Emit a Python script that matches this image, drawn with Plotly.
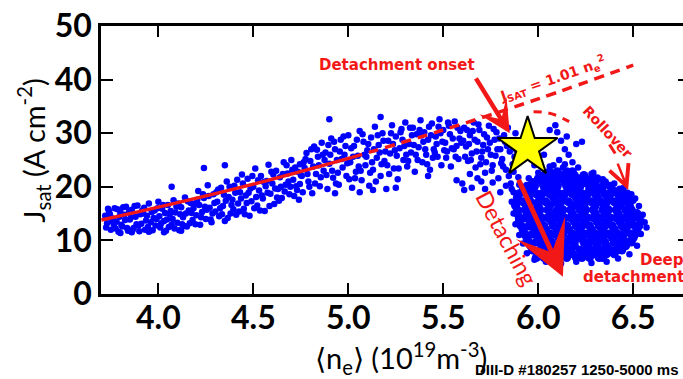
import plotly.graph_objects as go

# ---------------- data ----------------
# attached band, low density (n_e in 1e19 m^-3, Jsat in A/cm^2)
band_pts = [
 (3.72,14.6),(3.73,13.2),(3.74,15.5),(3.75,12.0),(3.76,14.1),(3.77,16.0),(3.78,13.5),(3.79,11.6),(3.80,15.2),(3.81,12.6),
 (3.82,14.8),(3.83,16.3),(3.84,11.8),(3.85,13.9),(3.86,15.7),(3.87,12.3),(3.88,14.4),(3.89,16.5),(3.90,11.7),(3.91,13.1),
 (3.92,15.0),(3.93,12.0),(3.94,14.6),(3.95,16.9),(3.96,13.4),(3.97,11.9),(3.98,15.6),(3.99,14.0),(4.00,17.2),(4.01,12.4),
 (4.02,15.9),(4.03,13.6),(4.04,11.8),(4.05,16.6),(4.06,14.9),(4.07,12.9),(4.08,17.5),(4.09,15.2),(4.10,13.3),(4.11,11.9),
 (4.12,16.2),(4.13,14.3),(4.14,18.0),(4.15,12.6),(4.16,15.6),(4.17,17.0),(4.18,13.8),(4.19,16.8),(4.20,14.7),(4.21,19.2),
 (4.22,12.9),(4.23,15.3),(4.24,17.9),(4.25,14.0),(4.26,20.3),(4.27,16.1),(4.28,13.4),(4.29,18.6),(4.30,15.4),(4.31,17.2),
 (4.32,14.5),(4.33,19.8),(4.34,16.4),(4.35,13.6),(4.36,21.0),(4.37,18.1),(4.38,15.0),(4.39,17.6),(4.40,20.2),(4.41,14.8),
 (4.42,16.9),(4.43,19.0),(4.44,22.3),(4.45,15.9),(4.46,18.4),(4.47,21.5),(4.48,14.6),(4.49,17.3),(4.50,20.0),(4.51,23.4),
 (4.52,16.5),(4.53,19.3),(4.54,22.0),(4.55,17.8),(4.56,15.5),(4.57,21.1),(4.58,24.1),(4.59,18.7),(4.60,20.6),(4.61,16.8),
 (4.62,23.0),(4.63,19.6),(4.64,21.8),(4.65,17.9),(4.66,24.6),(4.67,20.4),(4.68,22.5),(4.69,18.6),(4.70,25.0),(4.71,21.3),
 (4.72,23.6),(4.73,19.4),(4.74,17.6),(4.75,22.2),
 (3.725,12.4),(3.745,14.9),(3.765,13.0),(3.785,15.8),(3.805,12.9),(3.825,13.8),(3.845,15.3),(3.865,12.0),(3.885,13.0),
 (3.905,14.9),(3.925,16.1),(3.945,12.5),(3.965,15.3),(3.985,12.8),(4.005,14.5),(4.025,16.6),(4.045,13.9),(4.065,15.5),
 (4.085,12.2),(4.105,16.9),(4.125,13.0),(4.145,15.0),(4.165,13.2),(4.185,16.0),(4.205,17.6),(4.225,14.3),(4.245,16.3),
 (4.265,18.3),(4.285,15.0),(4.305,19.0),(4.325,16.0),(4.345,18.5),(4.365,14.2),(4.385,16.6),(4.405,18.9),(4.425,15.4),
 (4.445,20.6),(4.465,17.0),(4.485,19.7),(4.505,16.0),(4.525,21.2),(4.545,18.4),(4.565,20.1),(4.585,16.4),(4.605,22.3),
 (4.625,18.0),(4.645,20.0),(4.665,19.1),(4.685,21.0),(4.705,23.2),(4.725,20.1),(4.745,24.2),
 (3.735,15.9),(3.755,13.6),(3.775,12.2),(3.795,14.4),(3.815,16.2),(3.835,12.3),(3.855,14.3),(3.875,16.4),(3.895,12.8),
 (3.915,15.6),(3.935,13.7),(3.955,11.8),(3.975,14.2),(3.995,16.0),(4.015,13.2),(4.035,15.1),(4.055,12.5),(4.075,14.0),
 (4.095,16.3),(4.115,14.9),(4.135,12.7),(4.155,17.3),(4.175,15.1),(4.195,13.0),(4.215,16.6),(4.235,18.6),(4.255,15.7),
 (4.275,13.9),(4.295,17.0),(4.315,19.5),(4.335,14.9),(4.355,17.4),(4.375,20.0),(4.395,15.8),(4.415,21.3),(4.435,17.8),
 (4.455,14.9),(4.475,18.9),(4.495,22.0),(4.515,18.1),(4.535,15.6),(4.555,20.9),(4.575,18.9),(4.595,22.8),(4.615,19.7),
 (4.635,17.4),(4.655,22.4),(4.675,24.0),(4.695,20.0),(4.715,18.3),(4.735,22.8),(4.745,20.5),
 (4.24,23.5),(4.35,24.0),(4.07,20.0),(3.80,11.4),(3.86,11.5),(3.95,11.6),(4.03,11.5),(4.12,11.8),
]

# band around the density of the Jsat peak
mid_pts = [
 (4.76,19.0),(4.77,23.5),(4.78,26.3),(4.79,21.0),(4.80,24.8),(4.81,18.8),(4.82,27.5),(4.83,22.4),(4.84,25.6),(4.85,20.1),
 (4.86,28.2),(4.87,23.0),(4.88,26.4),(4.89,19.6),(4.90,24.3),(4.91,29.0),(4.92,21.7),(4.93,27.0),(4.94,25.0),(4.95,20.4),
 (4.96,28.8),(4.97,23.6),(4.98,26.0),(4.99,22.0),(5.00,29.6),(5.01,24.6),(5.02,19.8),(5.03,27.6),(5.04,22.8),(5.05,25.8),
 (5.06,30.4),(5.07,21.2),(5.08,28.4),(5.09,24.0),(5.10,26.8),(5.11,20.2),(5.12,29.2),(5.13,23.2),(5.14,31.2),(5.15,25.4),
 (5.16,27.8),(5.17,22.0),(5.18,30.0),(5.19,24.8),(5.20,19.6),(5.21,28.6),(5.22,26.2),(5.23,31.5),(5.24,23.4),(5.25,29.4),
 (5.26,21.4),(5.27,27.2),(5.28,30.8),(5.29,25.0),(5.30,32.0),(5.31,23.8),(5.32,28.0),(5.33,26.4),(5.34,31.0),(5.35,22.8),
 (5.36,29.8),(5.37,27.4),(5.38,32.4),(5.39,24.6),(5.40,30.2),(5.41,26.0),(5.42,28.8),(5.43,23.2),(5.44,31.8),(5.45,27.0),
 (5.46,29.4),(5.47,25.6),(5.48,32.6),(5.49,24.0),(5.50,30.6),(5.51,28.2),(5.52,26.6),(5.53,31.4),(5.54,23.8),(5.55,29.0),
 (5.56,32.2),(5.57,27.6),(5.58,25.2),(5.59,30.4),
 (4.755,22.0),(4.775,25.2),(4.795,20.0),(4.815,23.8),(4.835,26.9),(4.855,21.8),(4.875,25.0),(4.895,27.8),(4.915,23.0),
 (4.935,20.6),(4.955,26.6),(4.975,29.4),(4.995,24.4),(5.015,27.2),(5.035,21.6),(5.055,23.8),(5.075,29.8),(5.095,25.6),
 (5.115,22.6),(5.135,27.0),(5.155,29.6),(5.175,24.2),(5.195,26.6),(5.215,22.4),(5.235,28.0),(5.255,25.8),(5.275,30.2),
 (5.295,27.6),(5.315,24.8),(5.335,29.6),(5.355,26.0),(5.375,30.6),(5.395,28.4),(5.415,24.2),(5.435,29.6),(5.455,26.4),
 (5.475,31.2),(5.495,28.4),(5.515,25.4),(5.535,29.8),(5.555,27.0),(5.575,31.0),(5.595,28.2),
 (4.765,24.6),(4.785,22.4),(4.805,27.0),(4.825,20.6),(4.845,24.0),(4.865,26.0),(4.885,22.2),(4.905,26.0),(4.925,28.4),
 (4.945,22.6),(4.965,25.2),(4.985,27.6),(5.005,21.4),(5.025,25.6),(5.045,28.8),(5.065,23.0),(5.085,26.0),(5.105,28.0),
 (5.125,24.6),(5.145,21.0),(5.165,26.4),(5.185,28.6),(5.205,24.0),(5.225,30.0),(5.245,26.8),(5.265,23.4),(5.285,28.8),
 (5.305,26.0),(5.325,31.0),(5.345,27.8),(5.365,25.0),(5.385,29.6),(5.405,27.0),(5.425,31.2),(5.445,25.4),(5.465,28.0),
 (5.485,30.0),(5.505,26.8),(5.525,32.0),(5.545,27.2),(5.565,25.6),(5.585,29.0),
 (4.90,32.6),(5.17,33.0),(5.06,19.0),(5.13,19.4),(4.93,18.8),(5.25,19.8),(5.42,22.0),(5.57,21.2),
]

# knee region before and around the onset
knee_pts = [
 (5.60,20.6),(5.61,19.4),(5.65,19.8),(5.70,21.0),
 (5.61,31.0),(5.62,27.5),(5.63,24.8),(5.64,29.6),(5.65,26.2),(5.66,32.0),(5.67,23.6),(5.68,28.4),(5.69,30.6),(5.70,25.4),
 (5.71,27.8),(5.72,22.6),(5.73,29.2),(5.74,31.4),(5.75,26.0),(5.76,24.0),(5.77,28.8),(5.78,30.2),(5.79,21.6),(5.80,27.0),
 (5.81,25.2),(5.82,29.6),(5.83,23.2),(5.84,31.0),(5.85,26.6),(5.86,28.0),(5.87,22.8),(5.88,30.0),(5.89,24.6),(5.90,27.4),
 (5.615,25.6),(5.635,28.0),(5.655,30.4),(5.675,26.6),(5.695,24.2),(5.715,29.8),(5.735,27.0),(5.755,23.0),(5.775,25.8),
 (5.795,29.0),(5.815,23.8),(5.835,27.6),(5.855,20.6),(5.875,25.6),(5.895,21.8),
 (5.605,28.6),(5.625,30.6),(5.645,25.0),(5.665,28.8),(5.685,31.6),(5.705,26.6),(5.725,24.6),(5.745,28.2),(5.765,30.8),
 (5.785,27.0),(5.805,24.4),(5.825,28.4),(5.845,22.0),(5.865,24.2),(5.885,26.8),
 (5.72,19.6),(5.76,20.8),(5.80,19.0),(5.83,20.2),(5.86,19.6),(5.68,21.6),(5.64,22.4),
 (6.10,30.2),(6.12,28.6),(6.14,27.0),(6.16,26.0),(6.11,25.0),(6.08,24.0),(6.13,23.6),(6.18,24.6),(6.20,28.0),(6.06,30.6),
 (6.09,31.5),(6.15,29.4),(6.23,28.4),(6.29,22.6),(6.03,26.0),(6.05,28.5),(5.98,24.0),
]

# deep-detachment cloud: rows of Jsat with the n_e values found along each row
cloud_rows_j = [6.8, 7.5, 8.2, 9.0, 9.7, 10.5, 11.2, 12.0, 12.7, 13.5, 14.2, 15.0, 15.7, 16.5, 17.2,
                18.0, 18.7, 19.4, 20.1, 20.8, 21.5, 22.1, 22.8]
cloud_rows_n = [
 [5.99, 6.03, 6.08, 6.11, 6.15, 6.20, 6.23, 6.27, 6.32, 6.34],
 [6.01, 6.06, 6.13, 6.18, 6.25, 6.30, 6.36, 6.40],
 [5.97, 6.01, 6.05, 6.10, 6.13, 6.17, 6.22, 6.25, 6.29, 6.33, 6.38, 6.41, 6.44],
 [5.96, 6.02, 6.08, 6.14, 6.19, 6.26, 6.31, 6.36, 6.42, 6.46],
 [5.95, 5.99, 6.03, 6.07, 6.12, 6.15, 6.19, 6.24, 6.27, 6.31, 6.35, 6.40, 6.43, 6.47, 6.49],
 [5.94, 6.00, 6.05, 6.11, 6.17, 6.22, 6.28, 6.34, 6.39, 6.44, 6.50],
 [5.93, 5.97, 6.01, 6.06, 6.09, 6.13, 6.18, 6.21, 6.25, 6.30, 6.33, 6.37, 6.42, 6.45, 6.49, 6.51],
 [5.92, 5.98, 6.04, 6.10, 6.16, 6.22, 6.28, 6.34, 6.40, 6.46, 6.52],
 [5.91, 5.95, 5.99, 6.03, 6.08, 6.11, 6.15, 6.20, 6.23, 6.27, 6.32, 6.35, 6.39, 6.44, 6.47, 6.51, 6.53],
 [5.90, 5.96, 6.01, 6.07, 6.12, 6.19, 6.24, 6.31, 6.36, 6.43, 6.48, 6.54],
 [5.90, 5.93, 5.97, 6.02, 6.05, 6.09, 6.14, 6.17, 6.21, 6.26, 6.29, 6.33, 6.38, 6.41, 6.45, 6.50, 6.53],
 [5.89, 5.95, 6.00, 6.07, 6.12, 6.18, 6.24, 6.30, 6.36, 6.42, 6.48, 6.52],
 [5.89, 5.93, 5.98, 6.01, 6.05, 6.10, 6.13, 6.17, 6.22, 6.25, 6.29, 6.34, 6.37, 6.41, 6.46, 6.49],
 [5.88, 5.94, 6.00, 6.06, 6.11, 6.19, 6.24, 6.30, 6.35, 6.43, 6.48],
 [5.89, 5.92, 5.96, 6.00, 6.04, 6.09, 6.12, 6.16, 6.21, 6.24, 6.28, 6.33, 6.36, 6.40, 6.44, 6.47],
 [5.89, 5.95, 6.01, 6.08, 6.13, 6.20, 6.25, 6.31, 6.37, 6.43, 6.47],
 [5.90, 5.94, 5.99, 6.02, 6.06, 6.11, 6.14, 6.18, 6.23, 6.26, 6.30, 6.35, 6.38, 6.42, 6.45],
 [5.92, 5.97, 6.04, 6.09, 6.16, 6.21, 6.27, 6.33, 6.39, 6.43],
 [5.94, 5.98, 6.03, 6.06, 6.10, 6.15, 6.18, 6.22, 6.27, 6.30, 6.34, 6.38],
 [5.97, 6.02, 6.07, 6.14, 6.19, 6.25, 6.30, 6.35],
 [6.00, 6.04, 6.09, 6.12, 6.16, 6.21, 6.24, 6.28, 6.31],
 [6.03, 6.08, 6.13, 6.19, 6.24],
 [6.06, 6.10, 6.15, 6.18],
]
cloud_edge_pts = [
 (6.56,13.4),(6.54,11.2),(6.52,9.0),(6.48,7.4),(6.42,6.6),(6.36,6.0),(6.28,5.8),(6.20,6.0),(6.12,5.7),(6.04,6.0),
 (5.98,6.4),(5.94,7.6),(5.92,9.4),(5.90,11.0),(5.88,13.0),(5.87,15.0),(5.86,17.2),(5.87,19.0),(5.90,20.4),(5.95,21.6),
 (6.00,22.6),(6.06,23.8),(6.14,24.2),(6.21,23.6),(6.28,22.4),(6.34,21.4),(6.40,20.6),(6.45,19.8),(6.49,18.6),(6.51,17.8),
 (6.53,16.4),(6.55,14.8),(6.57,12.4),(6.47,18.9),(6.50,17.4),
]

# fit J_SAT = 1.01 n_e^2
fit_solid_n = [3.70, 4.00, 4.50, 5.02]
fit_solid_j = [13.8, 16.2, 20.5, 25.5]
fit_dash_n = [5.02, 5.50, 6.00, 6.50]
fit_dash_j = [25.5, 30.6, 36.4, 42.7]

# rollover guide (dashed arc)
roll_arc1_n = [5.975, 6.03, 6.09, 6.15, 6.19]
roll_arc1_j = [34.0, 33.9, 33.4, 32.4, 31.6]
roll_arc2_n = [6.375, 6.405]
roll_arc2_j = [27.9, 26.2]

onset_n, onset_j = [5.944], [27.3]

x_ticks = [4.0, 4.5, 5.0, 5.5, 6.0, 6.5]
y_ticks = [0, 10, 20, 30, 40, 50]

RED = "#f21818"
BLUE = "#0000ff"
FONT = "Lato"
LABEL_FONT = "DejaVu Sans"

# ---------------- figure ----------------
fig = go.Figure()

def split(pts):
    return [p[0] for p in pts], [p[1] for p in pts]

cloud_n, cloud_j = [], []
for jv, row in zip(cloud_rows_j, cloud_rows_n):
    cloud_n += row
    cloud_j += [jv] * len(row)

fig.add_trace(go.Scatter(x=cloud_n, y=cloud_j, mode="markers",
                         marker=dict(color=BLUE, size=9, line=dict(width=0)), hoverinfo="skip"))
for pts in (band_pts, mid_pts, knee_pts, cloud_edge_pts):
    xs, ys = split(pts)
    fig.add_trace(go.Scatter(x=xs, y=ys, mode="markers",
                             marker=dict(color=BLUE, size=6.5, line=dict(width=0)), hoverinfo="skip"))

fig.add_trace(go.Scatter(x=fit_solid_n, y=fit_solid_j, mode="lines", line_shape="spline",
                         line=dict(color=RED, width=3.5)))
fig.add_trace(go.Scatter(x=fit_dash_n, y=fit_dash_j, mode="lines", line_shape="spline",
                         line=dict(color=RED, width=3.5, dash="10px,7px")))
fig.add_trace(go.Scatter(x=roll_arc1_n, y=roll_arc1_j, mode="lines", line_shape="spline",
                         line=dict(color=RED, width=3, dash="8px,7px")))
fig.add_trace(go.Scatter(x=roll_arc2_n, y=roll_arc2_j, mode="lines",
                         line=dict(color=RED, width=3)))
fig.add_trace(go.Scatter(x=onset_n, y=onset_j, mode="markers",
                         marker=dict(symbol="star", size=45, color="#ffff00",
                                     line=dict(color="black", width=2))))
# invisible trace on right axis to carry its ticks
fig.add_trace(go.Scatter(x=[4.0], y=[0], yaxis="y2", mode="markers",
                         marker=dict(opacity=0), hoverinfo="skip"))

ann = []
# arrows (tail -> tip in data coordinates)
ann.append(dict(x=5.85, y=30.0, ax=5.667, ay=40.5, axref="x", ayref="y", xref="x", yref="y",
                text="", showarrow=True, arrowhead=3, arrowsize=1.2, arrowwidth=4.5, arrowcolor=RED))
ann.append(dict(x=6.13, y=3.2, ax=5.893, ay=21.6, axref="x", ayref="y", xref="x", yref="y",
                text="", showarrow=True, arrowhead=3, arrowsize=1.8, arrowwidth=5, arrowcolor=RED))
ann.append(dict(x=6.473, y=19.4, ax=6.415, ay=24.6, axref="x", ayref="y", xref="x", yref="y",
                text="", showarrow=True, arrowhead=5, arrowsize=1.6, arrowwidth=2.5, arrowcolor=RED))
# texts
ann.append(dict(x=5.256, y=42.7, xref="x", yref="y", text="<b>Detachment onset</b>", showarrow=False,
                font=dict(family=LABEL_FONT, size=15, color=RED)))
ann.append(dict(x=6.075, y=40.2, xref="x", yref="y",
                text="<b>J<sub>SAT</sub> = 1.01 n<sub>e</sub><sup>2</sup></b>", showarrow=False, textangle=-19,
                font=dict(family=LABEL_FONT, size=14, color=RED)))
ann.append(dict(x=6.366, y=30.2, xref="x", yref="y", text="<b>Rollover</b>", showarrow=False, textangle=47,
                font=dict(family=LABEL_FONT, size=14, color=RED)))
ann.append(dict(x=5.835, y=10.4, xref="x", yref="y", text="Detaching", showarrow=False, textangle=62,
                font=dict(family=FONT, size=23, color=RED)))
ann.append(dict(x=1.006, y=0.1269, xref="paper", yref="paper", text="<b>Deep</b>",
                showarrow=False, xanchor="right", yanchor="middle",
                font=dict(family=LABEL_FONT, size=15, color=RED)))
ann.append(dict(x=1.006, y=0.0634, xref="paper", yref="paper", text="<b>detachment</b>",
                showarrow=False, xanchor="right", yanchor="middle",
                font=dict(family=LABEL_FONT, size=15, color=RED)))
# axis titles
ann.append(dict(x=-0.1168, y=0.535, xref="paper", yref="paper", textangle=-90,
                xanchor="center", yanchor="middle",
                text="J<sub>sat</sub> (A cm<sup>-2</sup>)", showarrow=False,
                font=dict(family=FONT, size=29, color="black")))
ann.append(dict(x=0.515, y=-0.239, xref="paper", yref="paper", xanchor="center", yanchor="middle",
                text="\u27e8n<sub>e</sub>\u27e9 (10<sup>19</sup>m<sup>-3</sup>)", showarrow=False,
                font=dict(family=FONT, size=29, color="black")))
ann.append(dict(x=0.995, y=-0.282, xref="paper", yref="paper", xanchor="right", yanchor="middle",
                text="<b>DIII-D #180257 1250-5000 ms</b>", showarrow=False,
                font=dict(family="Liberation Sans", size=15, color="black")))

fig.update_layout(
    width=683, height=379,
    margin=dict(l=101, r=0, t=26, b=85),
    paper_bgcolor="white", plot_bgcolor="white",
    showlegend=False,
    annotations=ann,
    xaxis=dict(range=[3.698, 6.762], tickvals=x_ticks, ticktext=[f"{v:.1f}" for v in x_ticks],
               ticks="inside", ticklen=11, tickwidth=2, tickcolor="black",
               showline=True, linewidth=2.5, linecolor="black", mirror="ticks",
               showgrid=False, zeroline=False, ticklabelstandoff=-6,
               tickfont=dict(family=FONT, size=32, color="black", weight="bold")),
    yaxis=dict(range=[0, 50], tickvals=y_ticks, ticks="inside", ticklen=12, tickwidth=2,
               tickcolor="black", showline=True, linewidth=2.5, linecolor="black",
               showgrid=False, zeroline=False,
               tickfont=dict(family=FONT, size=32, color="black", weight="bold")),
    yaxis2=dict(range=[0, 50], tickvals=y_ticks, overlaying="y", side="right", anchor="x",
                ticks="inside", ticklen=5, tickwidth=2, tickcolor="black", showticklabels=False,
                showline=False, showgrid=False, zeroline=False),
)

fig.write_html("out.html")
